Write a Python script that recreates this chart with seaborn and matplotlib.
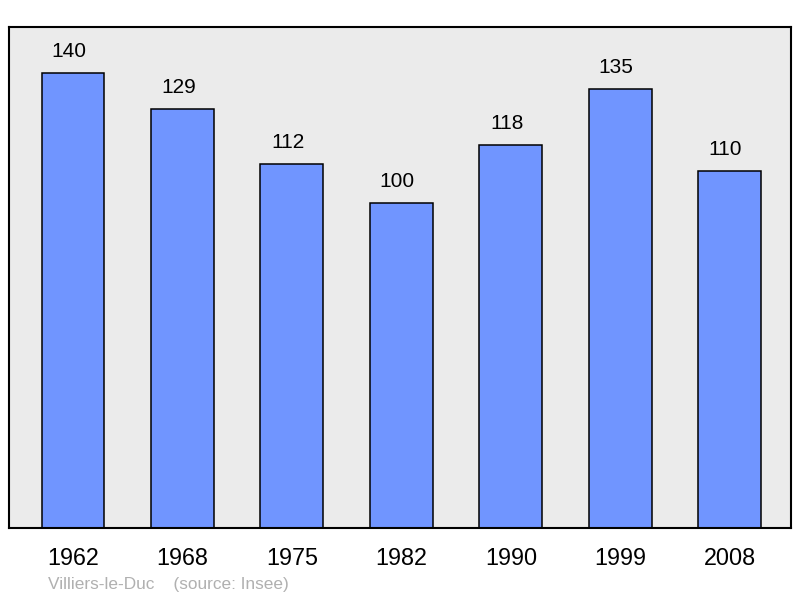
import matplotlib
matplotlib.use("Agg")
import matplotlib.pyplot as plt
import seaborn as sns
import pandas as pd

years = ["1962", "1968", "1975", "1982", "1990", "1999", "2008"]
population = [140, 129, 112, 100, 118, 135, 110]
source_text = "Villiers-le-Duc    (source: Insee)"

sns.set_style("white")
plt.rcParams['font.family'] = ['Liberation Sans', 'DejaVu Sans']

df = pd.DataFrame({"year": years, "pop": population})

fig = plt.figure(figsize=(8, 5.98), dpi=100)
ax = fig.add_axes([9/800, 70/598, 782/800, 501/598])
ax.set_facecolor("#ebebeb")

sns.barplot(data=df, x="year", y="pop", color="#7095ff", saturation=1,
            width=0.575, edgecolor="black", linewidth=1.1, ax=ax)

for i, v in enumerate(population):
    ax.annotate(str(v), (i, v), xytext=(-3, 15.5), textcoords="offset points",
                ha="center", va="center", fontsize=15, color="black")

ax.set_xlim(-0.585, 6.56)
ax.set_ylim(0, 154.2)
ax.set_xlabel("")
ax.set_ylabel("")
ax.set_yticks([])
ax.tick_params(axis="x", length=0, pad=14, labelsize=16.8, labelcolor="black")
for s in ax.spines.values():
    s.set_color("black")
    s.set_linewidth(1.5)

fig.text(48/800, 1 - 584/598, source_text, color="#b0b0b0", fontsize=12.4,
         ha="left", va="center")

fig.savefig("out.png", dpi=100)
